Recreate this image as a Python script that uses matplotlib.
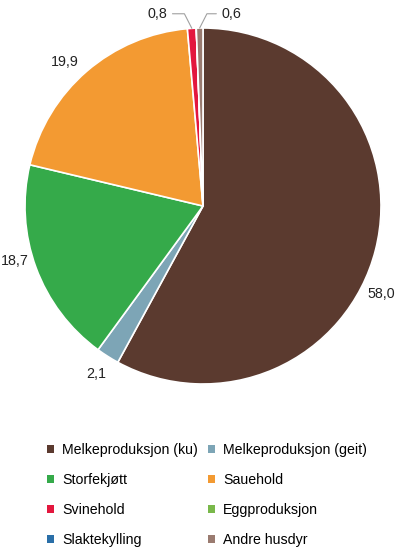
import numpy as np
import matplotlib.pyplot as plt
from matplotlib.patches import Patch

# --- data ---
categories = ["Melkeproduksjon (ku)", "Melkeproduksjon (geit)", "Storfekjøtt",
              "Sauehold", "Svinehold", "Eggproduksjon", "Slaktekylling", "Andre husdyr"]
values = [58.0, 2.1, 18.7, 19.9, 0.8, 0.0, 0.0, 0.6]
labels = ["58,0", "2,1", "18,7", "19,9", "0,8", "", "", "0,6"]
colors = ["#5b3a2f", "#7da5b6", "#35aa4a", "#f39a32",
          "#e3173e", "#79b84a", "#2a6fa8", "#9a7b70"]

plt.rcParams['font.family'] = ['Liberation Sans', 'DejaVu Sans']

fig = plt.figure(figsize=(4.0, 5.52), dpi=100)
# pie area: centre ~ (203, 206) px, radius ~178 px
ax = fig.add_axes([(203 - 178) / 400, 1 - (206 + 178) / 552, 356 / 400, 356 / 552])
wedges, _ = ax.pie(values, colors=colors, startangle=90, counterclock=False,
                   wedgeprops=dict(edgecolor="white", linewidth=1.2))
ax.set_xlim(-1, 1)
ax.set_ylim(-1, 1)
ax.set_aspect("equal")

# data labels (nudged off their mid-angle like the original)
shift = {0: -12, 2: -4, 3: 3}
dist = {2: 1.10}
for i, w in enumerate(wedges):
    if not labels[i]:
        continue
    mid = np.deg2rad((w.theta1 + w.theta2) / 2 + shift.get(i, 0))
    if values[i] >= 2:
        r = dist.get(i, 1.12)
        ax.text(r * np.cos(mid), r * np.sin(mid), labels[i],
                ha="center", va="center", fontsize=10.3, color="#222222")
    else:
        # small slices: label above with a leader line
        px, py = np.cos(mid), np.sin(mid)
        if px < -0.03:
            xt, ha, angB = px - 0.14, "right", 117
        else:
            xt, ha, angB = px + 0.125, "left", 63
        ax.annotate(labels[i], xy=(px, py), xytext=(xt, 1.08),
                    ha=ha, va="center", fontsize=10.3, color="#222222",
                    annotation_clip=False,
                    arrowprops=dict(arrowstyle="-", color="#a0a0a0", lw=0.8,
                                    shrinkA=2, shrinkB=0,
                                    connectionstyle="angle,angleA=0,angleB=%d,rad=0" % angB))

order = [0, 2, 4, 6, 1, 3, 5, 7]
handles = [Patch(facecolor=colors[i], edgecolor="none", label=categories[i]) for i in order]
fig.legend(handles=handles, ncol=2, loc="upper left",
           bbox_to_anchor=(47 / 400, 1 - 443 / 552), frameon=False,
           fontsize=10.2, handlelength=0.5, handleheight=0.5,
           handletextpad=0.55, columnspacing=0.75, labelspacing=1.13,
           borderpad=0, borderaxespad=0)

fig.savefig("out.png", dpi=100, facecolor="white")
